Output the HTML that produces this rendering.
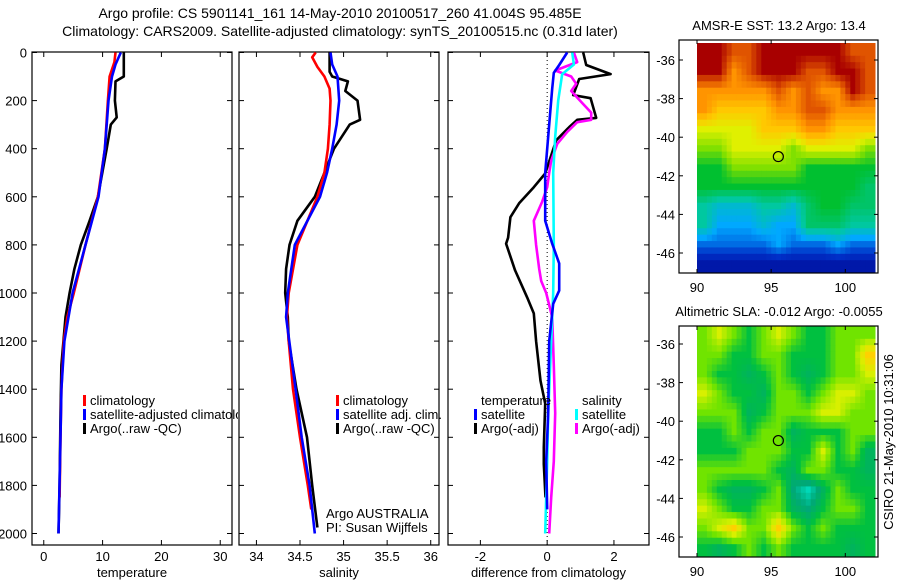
<!DOCTYPE html>
<html><head><meta charset="utf-8"><style>
html,body{margin:0;padding:0;background:#fff;}
svg{display:block;font-family:"Liberation Sans",sans-serif;}
</style></head><body>
<svg id="chart" width="900" height="580" viewBox="0 0 900 580" xmlns="http://www.w3.org/2000/svg">
<defs><clipPath id="p1clip"><rect x="32" y="52" width="206" height="493"/></clipPath></defs>
<text x="340" y="18" font-size="14" text-anchor="middle">Argo profile: CS 5901141_161 14-May-2010 20100517_260 41.004S 95.485E</text>
<text x="340" y="36" font-size="14" text-anchor="middle">Climatology: CARS2009. Satellite-adjusted climatology: synTS_20100515.nc (0.31d later)</text>
<g id="g"></g>
</svg>
<script>
// ---- data ----
const depthTicks=[0,200,400,600,800,1000,1200,1400,1600,1800,2000];
const tempTicks=[0,10,20,30];
const salTicks=[34,34.5,35,35.5,36];
const diffTicks=[-2,0,2];
const tClimZ=[0,40,100,200,400,600,800,1000,1100,1200,1400,1600,1850];
const tClim=[12.2,12.0,11.2,10.9,10.4,9.2,7.1,5.1,4.0,3.4,3.0,2.85,2.7];
const tSatZ=[0,50,100,200,400,600,800,1000,1200,1400,1600,2000];
const tSat=[13.1,12.2,11.6,11.0,10.4,9.3,7.1,4.9,3.5,3.0,2.85,2.5];
const tArgoZ=[0,100,120,200,270,300,400,600,700,800,900,1000,1100,1300,1500,1800,2000];
const tArgo=[13.6,13.6,12.2,12.1,12.4,11.4,10.7,9.2,7.8,6.3,5.2,4.4,3.7,3.0,2.85,2.7,2.5];
const sClimZ=[0,20,60,100,150,200,300,400,500,600,800,1000,1100,1200,1400,1600,1800,1900];
const sClim=[34.68,34.64,34.7,34.78,34.84,34.85,34.84,34.82,34.78,34.7,34.47,34.37,34.35,34.37,34.42,34.5,34.59,34.63];
const sSatZ=[0,50,100,200,300,400,500,600,800,1000,1100,1400,1600,1800,2000];
const sSat=[34.85,34.87,34.93,34.95,34.92,34.87,34.81,34.73,34.44,34.36,34.34,34.45,34.52,34.61,34.67];
const sArgoZ=[0,80,100,120,160,200,280,300,350,400,500,600,700,800,900,1000,1100,1200,1400,1600,1800,1975];
const sArgo=[34.84,34.84,34.87,35.05,35.02,35.16,35.19,35.07,34.98,34.89,34.78,34.67,34.47,34.38,34.34,34.33,34.36,34.37,34.46,34.58,34.64,34.7];
const dTArgoZ=[0,52,90,110,177,190,272,280,310,365,503,560,627,685,770,795,906,1018,1085,1200,1365,1460,1643,1711,1850];
const dTArgo=[1.08,1.17,1.9,0.96,0.78,1.3,1.47,0.9,0.66,0.27,-0.06,-0.4,-0.84,-1.1,-1.17,-1.23,-0.96,-0.6,-0.4,-0.33,-0.2,-0.06,-0.1,-0.1,-0.05];
const dTSatZ=[0,52,85,150,300,500,700,795,877,990,1045,1200,1500,1700,1900];
const dTSat=[0.6,0.36,0.2,0.15,0.06,-0.06,-0.06,0.15,0.36,0.36,0.18,0.06,0.03,-0.03,0];
const dSSatZ=[0,50,90,200,350,500,800,1000,1200,1500,1700,2000];
const dSSat=[0.75,0.8,0.45,0.33,0.24,0.18,0.2,0.18,0.12,0.03,0,-0.06];
const dSArgoZ=[0,40,75,100,130,160,210,250,280,290,330,380,450,500,560,620,700,800,900,950,1000,1100,1300,1500,1700,1850,2000];
const dSArgo=[0.8,0.9,0.24,0.72,0.87,0.72,1.05,1.32,1.32,0.9,0.6,0.3,0.12,0.06,0,-0.15,-0.4,-0.33,-0.24,-0.18,-0.03,0.15,0.2,0.24,0.2,0.12,0.06];
const sstGrid=[
[10,10,9,9,10,10,10,10,10,10,9,9],
[10,10,8,9,10,10,10,9,9,10,10,9],
[8,8,8,8,8,9,8,9,8,8,10,9],
[8,7,7,7,7,8,8,9,9,8,8,8],
[6,6,6,6,7,7,7,8,8,7,7,7],
[5,5,6,6,6,6,5,6,6,6,6,5],
[4,4,5,5,5,5,5,4,4,4,4,4],
[4,4,4,4,4,4,4,4,4,4,4,3.5],
[3,2.5,2.5,2.5,3,3,2.5,3.5,4,4,3.5,3.5],
[3,2,2,2,2.5,2,2,3.5,3.5,3.5,3,3],
[1.5,1.5,1.5,1.5,1.5,2,1.5,1.5,1.5,2,1.5,1.5],
[0.5,0.5,0.5,0.5,0.5,0.5,0.5,0.5,0.5,0.5,0.5,0.5]];
const slaGrid=[
[2,3,2,1,2,3,2,1,1,2,2,2],
[2,2,1,1,2,2,1,1,1,2,2,4],
[2,1,1,0.5,1,2,1,0.5,1,2,2,3],
[3,2,1,1,0.5,2,2,1,2,3,3,2],
[2,2,2,0.5,1,2,2,2,3,3,2,2],
[1,1,2,1,2,2,0.5,1,1,1,2,2],
[1,1,1,2,2,2,1,1,3,1,2,0.5],
[2,2,2,2,2,1,0.5,2,2,1,1,0.5],
[2,1,0.5,0.5,1,2,0,-1,0.5,2,1,1],
[3,2,1,1,2,2,0.5,0,1,2,2,1],
[2,3,4,2,2,4,2,1,2,1,1,1],
[1,0.5,1,2,1,2,1,1,1,1,0.5,1]];
const latTicks=[-36,-38,-40,-42,-44,-46];
const lonTicks=[90,95,100];
const argoLon=95.485, argoLat=-41.004;

// ---- drawing ----
const NS="http://www.w3.org/2000/svg";
const G=document.getElementById('g');
function mk(tag,attrs,parent){const e=document.createElementNS(NS,tag);for(const k in attrs)e.setAttribute(k,attrs[k]);(parent||G).appendChild(e);return e;}
const Y=z=>52.5+0.2405*z;
const panels=[
 {x0:32,x1:232,lo:-2,hi:32,ticks:tempTicks,label:'temperature',name:'temperature'},
 {x0:239,x1:439,lo:33.8,hi:36.095,ticks:salTicks,label:'salinity',name:'salinity'},
 {x0:448,x1:649,lo:-2.97,hi:3.05,ticks:diffTicks,label:'difference from climatology',name:'difference'}];
panels.forEach((p,i)=>{
 p.X=v=>p.x0+(v-p.lo)/(p.hi-p.lo)*(p.x1-p.x0);
 const b=mk('rect',{x:p.x0,y:52,width:p.x1-p.x0,height:493,fill:'none',stroke:'#000','stroke-width':1.2});
 
 
 p.ticks.forEach(t=>{const x=p.X(t);
  mk('line',{x1:x,x2:x,y1:545,y2:540,stroke:'#000'});mk('line',{x1:x,x2:x,y1:52,y2:57,stroke:'#000'});
  const tx=mk('text',{x:x,y:561,'font-size':13,'text-anchor':'middle'});tx.textContent=t;
  
  });
 depthTicks.forEach(d=>{const y=Y(d);
  mk('line',{x1:p.x0,x2:p.x0+5,y1:y,y2:y,stroke:'#000'});mk('line',{x1:p.x1,x2:p.x1-5,y1:y,y2:y,stroke:'#000'});
  if(i===0){const tx=mk('text',{x:27,y:y+5,'font-size':13,'text-anchor':'end'});tx.textContent=d;
   
   }});
 const xl=mk('text',{x:(p.x0+p.x1)/2,y:577,'font-size':13,'text-anchor':'middle'});xl.textContent=p.label;
 
 
});
const zx=panels[2].X(0);
const zl=mk('line',{x1:zx,x2:zx,y1:52,y2:545,stroke:'#000','stroke-dasharray':'1,3'});


function line(p,zs,vs,col,name){
 const pts=zs.map((z,k)=>p.X(vs[k]).toFixed(1)+','+Y(z).toFixed(1)).join(' ');
 const e=mk('polyline',{points:pts,fill:'none',stroke:col,'stroke-width':2.6,'stroke-linejoin':'round'});
 
 
}
line(panels[0],tArgoZ,tArgo,'#000','temp-argo-line');
line(panels[0],tClimZ,tClim,'#f00','temp-climatology-line');
line(panels[0],tSatZ,tSat,'#00f','temp-satellite-line');
line(panels[1],sArgoZ,sArgo,'#000','sal-argo-line');
line(panels[1],sClimZ,sClim,'#f00','sal-climatology-line');
line(panels[1],sSatZ,sSat,'#00f','sal-satellite-line');
line(panels[2],dTArgoZ,dTArgo,'#000','diff-temp-argo-line');
line(panels[2],dSArgoZ,dSArgo,'#f0f','diff-sal-argo-line');
line(panels[2],dSSatZ,dSSat,'#0ff','diff-sal-satellite-line');
line(panels[2],dTSatZ,dTSat,'#00f','diff-temp-satellite-line');
function legend(x,y,items,name,clip){const grp=mk('g',clip?{'clip-path':'url(#'+clip+')'}:{});
 items.forEach((it,k)=>{
 if(it[1]){const r=mk('rect',{x:x,y:y+k*14-10,width:3,height:11,fill:it[1]},grp);
  
  }
 const t=mk('text',{x:x+7,y:y+k*14,'font-size':13},grp);t.textContent=it[0];
 
 });}
legend(83,405,[['climatology','#f00'],['satellite-adjusted climatology','#00f'],['Argo(..raw -QC)','#000']],'temp-legend','p1clip');
legend(336,405,[['climatology','#f00'],['satellite adj. clim.','#00f'],['Argo(..raw -QC)','#000']],'sal-legend');
legend(474,405,[['temperature',null],['satellite','#00f'],['Argo(-adj)','#000']],'diff-temp-legend');
legend(575,405,[['salinity',null],['satellite','#0ff'],['Argo(-adj)','#f0f']],'diff-sal-legend');
const a1=mk('text',{x:326,y:518,'font-size':13});a1.textContent='Argo AUSTRALIA';

const a2=mk('text',{x:326,y:532,'font-size':13});a2.textContent='PI: Susan Wijffels';


// maps
const sstStops=[[0,'#00008a'],[1,'#0030c8'],[2,'#00a8ff'],[3,'#00c8a0'],[4,'#00c030'],[5,'#80e000'],[6,'#e0f000'],[7,'#ffc800'],[8,'#ff9400'],[9,'#e05400'],[10,'#a80000']];
const slaStops=[[-1,'#00d8b8'],[0,'#00a878'],[1,'#00c040'],[2,'#70e400'],[3,'#d8f000'],[4,'#ffd000']];
function cmap(stops,v){
 if(v<=stops[0][0])return stops[0][1];
 if(v>=stops[stops.length-1][0])return stops[stops.length-1][1];
 for(let k=0;k<stops.length-1;k++){const a=stops[k],b=stops[k+1];if(v>=a[0]&&v<=b[0]){const f=(v-a[0])/(b[0]-a[0]);
  const pa=[1,3,5].map(i=>parseInt(a[1].substr(i,2),16)),pb=[1,3,5].map(i=>parseInt(b[1].substr(i,2),16));
  return 'rgb('+pa.map((c,i)=>Math.round(c+(pb[i]-c)*f)).join(',')+')';}}return stops[0][1];}
function sample(grid,r,c){ // bilinear on cell centres
 const R=grid.length,C=grid[0].length;
 r=Math.max(0,Math.min(R-1,r));c=Math.max(0,Math.min(C-1,c));
 const r0=Math.floor(r),c0=Math.floor(c),r1=Math.min(R-1,r0+1),c1=Math.min(C-1,c0+1),fr=r-r0,fc=c-c0;
 return grid[r0][c0]*(1-fr)*(1-fc)+grid[r0][c1]*(1-fr)*fc+grid[r1][c0]*fr*(1-fc)+grid[r1][c1]*fr*fc;}
function map(grid,stops,box,img,title,name){
 const lonX=l=>697+(l-90)*14.83, latY=l=>box.lat36+(-36-l)*19.3;
 const U=3,R=grid.length*U,C=grid[0].length*U;
 const cw=(img.x1-img.x0)/C, ch=(img.y1-img.y0)/R;
 for(let r=0;r<R;r++)for(let c=0;c<C;c++){
  const v=sample(grid,(r+0.5)/U-0.5,(c+0.5)/U-0.5);
  const e=mk('rect',{x:(img.x0+c*cw).toFixed(2),y:(img.y0+r*ch).toFixed(2),width:(cw+0.5).toFixed(2),height:(ch+0.5).toFixed(2),fill:cmap(stops,v)});
  
  }
 const b=mk('rect',{x:679,y:box.y0,width:199,height:box.y1-box.y0,fill:'none',stroke:'#000','stroke-width':1.2});
 
 latTicks.forEach(l=>{const y=latY(l);mk('line',{x1:679,x2:683,y1:y,y2:y,stroke:'#000'});mk('line',{x1:878,x2:874,y1:y,y2:y,stroke:'#000'});
  const t=mk('text',{x:675,y:y+5,'font-size':13,'text-anchor':'end'});t.textContent=l;
  });
 lonTicks.forEach(l=>{const x=lonX(l);mk('line',{x1:x,x2:x,y1:box.y0,y2:box.y0+4,stroke:'#000'});mk('line',{x1:x,x2:x,y1:box.y1,y2:box.y1-4,stroke:'#000'});
  const t=mk('text',{x:x,y:box.y1+19,'font-size':13,'text-anchor':'middle'});t.textContent=l;
  });
 const c=mk('circle',{cx:lonX(argoLon),cy:latY(argoLat),r:5,fill:'none',stroke:'#000','stroke-width':1.2});
 
 const t=mk('text',{x:779,y:box.y0-10,'font-size':13,'text-anchor':'middle'});t.textContent=title;
 
}
map(sstGrid,sstStops,{y0:40,y1:273,lat36:60},{x0:697,x1:875,y0:43,y1:273},'AMSR-E SST: 13.2 Argo: 13.4','sst-map');
map(slaGrid,slaStops,{y0:326,y1:557,lat36:344},{x0:697,x1:875,y0:326,y1:557},'Altimetric SLA: -0.012 Argo: -0.0055','sla-map');
const cs=mk('text',{x:0,y:0,'font-size':13,'text-anchor':'middle',transform:'translate(893,442) rotate(-90)'});
cs.textContent='CSIRO 21-May-2010 10:31:06';

</script>
</body></html>
